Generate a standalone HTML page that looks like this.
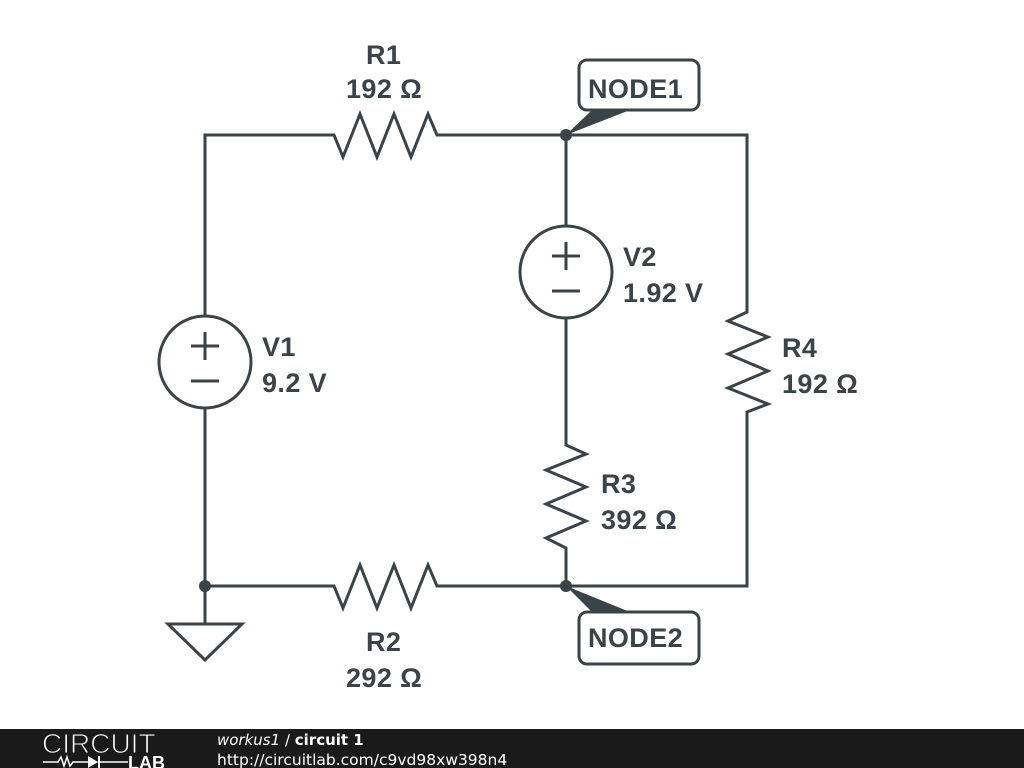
<!DOCTYPE html>
<html><head><meta charset="utf-8"><style>
html,body{margin:0;padding:0;background:#fff;width:1024px;height:768px;overflow:hidden}
svg{display:block}
text{font-family:"Liberation Sans",sans-serif;font-weight:bold;fill:#3a4348;font-size:27px;letter-spacing:0.4px}
</style></head><body>
<svg width="1024" height="768" viewBox="0 0 1024 768">
<g fill="none" stroke="#3a4348" stroke-width="3" stroke-linejoin="miter">
<polyline points="205,316 205,135 334,135 343,157 360,114 377,157 394,114 411,157 428,114 437,135 747,135 747,312 728,321 768,337 728,354 768,371 728,388 768,404 747,412 747,586 437,586 428,565 411,608 394,565 377,608 360,565 343,608 334,586 205,586 205,408"/>
<polyline points="566,135 566,226"/>
<polyline points="566,318 566,445 586,454 546,470 586,487 546,504 586,521 546,538 566,548 566,586"/>
<circle cx="205" cy="362" r="46"/>
<circle cx="566" cy="272" r="46"/>
<line x1="191" y1="346" x2="219" y2="346"/><line x1="205" y1="332" x2="205" y2="360"/>
<line x1="191" y1="381" x2="219" y2="381"/>
<line x1="552" y1="256" x2="580" y2="256"/><line x1="566" y1="242" x2="566" y2="270"/>
<line x1="552" y1="291" x2="580" y2="291"/>
<line x1="205" y1="586" x2="205" y2="624"/>
<polygon points="168,624 242,624 205,660"/>
<rect x="579" y="60" width="120" height="50" rx="8" fill="#fff"/>
<rect x="579" y="612" width="120" height="52" rx="8" fill="#fff"/>
</g>
<g fill="#3a4348">
<circle cx="566" cy="135" r="6"/><circle cx="566" cy="586" r="6"/><circle cx="205" cy="586" r="6"/>
<polygon points="566,135 592,110 630,110"/>
<polygon points="566,586 592,612 630,612"/>
</g>
<text x="366" y="64">R1</text><text x="346" y="98">192 Ω</text>
<text x="588" y="98">NODE1</text>
<text x="588" y="647">NODE2</text>
<text x="623" y="266">V2</text><text x="623" y="302">1.92 V</text>
<text x="262" y="356">V1</text><text x="262" y="392">9.2 V</text>
<text x="782" y="357">R4</text><text x="782" y="393">192 Ω</text>
<text x="601" y="493">R3</text><text x="601" y="529">392 Ω</text>
<text x="366" y="651">R2</text><text x="346" y="687">292 Ω</text>
<rect x="0" y="729" width="1024" height="39" fill="#1a1a1a"/>
<text x="42" y="753" style="font-weight:normal;font-size:28px;letter-spacing:0;fill:#fff;stroke:#1a1a1a;stroke-width:1">CIRCUIT</text>
<polyline points="43,762 58,762 61,757 64,766 67,757 70,766 73,762 88,762" fill="none" stroke="#fff" stroke-width="1.5"/>
<polygon points="88,756 88,768 98,762" fill="#fff"/><line x1="99" y1="756" x2="99" y2="768" stroke="#fff" stroke-width="2"/>
<line x1="99" y1="762" x2="128" y2="762" stroke="#fff" stroke-width="1.5"/>
<text x="128" y="769" style="font-size:18px;letter-spacing:0;fill:#fff">LAB</text>
<text x="217" y="745" style="font-size:15px;letter-spacing:0;fill:#fff;font-family:'DejaVu Sans',sans-serif"><tspan style="font-style:italic;font-weight:normal">workus1</tspan><tspan style="font-weight:normal"> / </tspan>circuit 1</text>
<text x="217" y="765" style="font-size:15.5px;letter-spacing:0;fill:#fff;font-weight:normal;font-family:'DejaVu Sans',sans-serif">http://circuitlab.com/c9vd98xw398n4</text>
</svg>
</body></html>
